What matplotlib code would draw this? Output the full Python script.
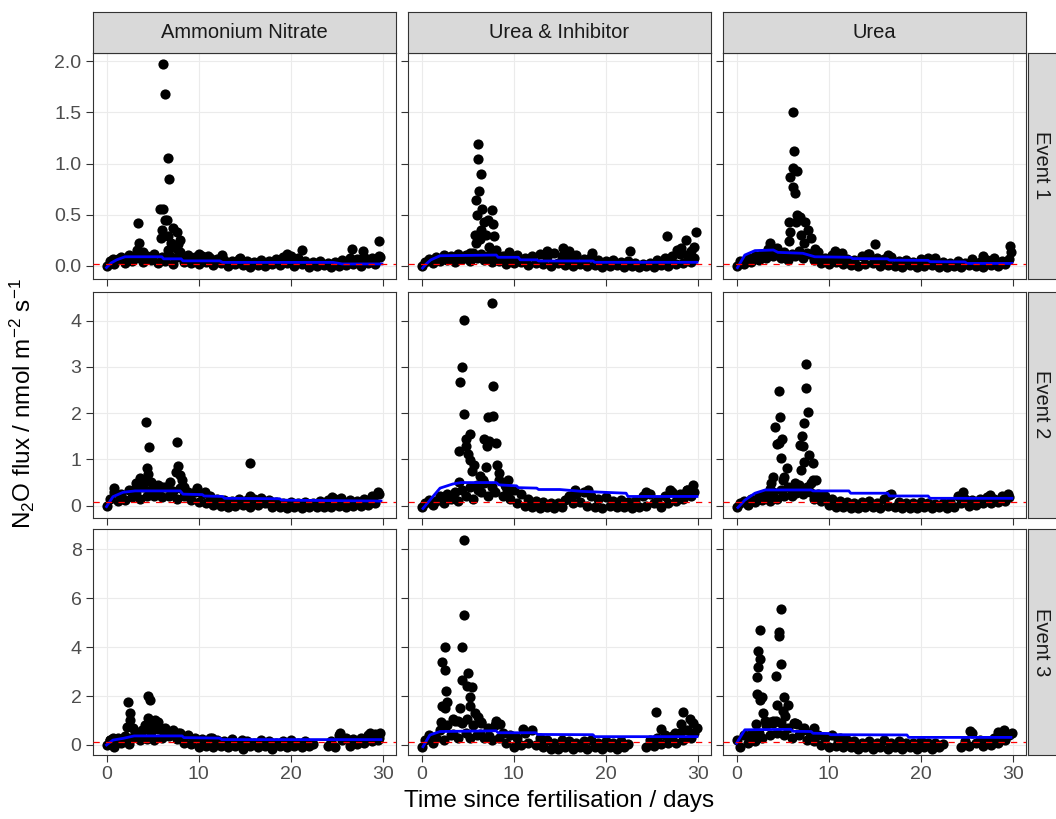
import numpy as np
import matplotlib
matplotlib.use("Agg")
import matplotlib.pyplot as plt

plt.rcParams['font.family'] = ['Liberation Sans', 'DejaVu Sans']
plt.rcParams['mathtext.fontset'] = 'custom'
plt.rcParams['mathtext.rm'] = 'Liberation Sans'
plt.rcParams['mathtext.it'] = 'Liberation Sans:italic'

nan = np.nan

treatments = ["Ammonium Nitrate", "Urea & Inhibitor", "Urea"]
events = ["Event 1", "Event 2", "Event 3"]
y_tick_values = [[0.0, 0.5, 1.0, 1.5, 2.0], [0, 1, 2, 3, 4], [0, 2, 4, 6, 8]]
y_tick_labels = [["0.0", "0.5", "1.0", "1.5", "2.0"], ["0", "1", "2", "3", "4"], ["0", "2", "4", "6", "8"]]
x_tick_values = [0, 10, 20, 30]
threshold = [0.015, 0.07, 0.14]

sample_days = [0.0, 0.4, 0.8, 1.2, 1.6, 2.0, 2.4, 2.8, 3.2, 3.6, 4.0, 4.4, 4.8, 5.2, 5.6,
               6.0, 6.4, 6.8, 7.2, 7.6, 8.0, 8.4, 8.8, 9.2, 9.6, 10.0, 10.4, 10.8, 11.2,
               11.6, 12.0, 12.4, 12.8, 13.2, 13.6, 14.0, 14.4, 14.8, 15.2, 15.6, 16.0,
               16.4, 16.8, 17.2, 17.6, 18.0, 18.4, 18.8, 19.2, 19.6, 20.0, 20.4, 20.8,
               21.2, 21.6, 22.0, 22.4, 22.8, 23.2, 23.6, 24.0, 24.4, 24.8, 25.2, 25.6,
               26.0, 26.4, 26.8, 27.2, 27.6, 28.0, 28.4, 28.8, 29.2, 29.6]

# ---------------- Event 1 ----------------
base_an_e1 = [0.00, 0.05, 0.02, 0.07, 0.09, 0.03, 0.11, 0.05, 0.08, 0.12, 0.04, 0.10,
              0.06, 0.12, 0.03, 0.09, 0.05, 0.11, 0.02, 0.09, 0.10, 0.04, 0.11, 0.03,
              0.09, 0.02, 0.10, 0.04, 0.08, 0.01, 0.07, 0.03, 0.06, 0.00, 0.05, 0.02,
              0.07, 0.01, 0.05, -0.01, 0.04, 0.01, 0.06, 0.00, 0.05, 0.02, 0.07, 0.01,
              0.09, 0.03, 0.06, 0.00, 0.08, 0.02, 0.05, -0.01, 0.04, 0.00, 0.05, 0.01,
              0.03, -0.01, 0.04, 0.00, 0.06, 0.01, 0.08, 0.02, 0.07, 0.00, 0.09, 0.03,
              0.08, 0.02, 0.10]
peak_an_e1_x = [6.1, 6.3, 6.65, 6.8, 5.8, 6.15, 6.35, 6.6, 6.0, 7.6, 7.25, 5.9, 6.7, 8.0,
                6.7, 7.6, 8.0, 3.4, 3.55, 3.3, 4.0, 7.0, 7.8, 19.6, 21.2, 26.7, 27.8,
                29.6, 29.7, 10.0, 11.0, 12.5, 14.5, 20.0, 0.7]
peak_an_e1_y = [1.97, 1.675, 1.055, 0.845, 0.56, 0.56, 0.45, 0.45, 0.35, 0.335, 0.37,
                0.27, 0.29, 0.25, 0.16, 0.17, 0.14, 0.42, 0.22, 0.16, 0.14, 0.22, 0.21,
                0.12, 0.16, 0.17, 0.15, 0.24, 0.09, 0.12, 0.10, 0.11, 0.08, 0.10, 0.07]
blue_an_e1_x = [0.0, 0.5, 1.1, 2.0, 6.0, 6.2, 8.1, 8.3, 12.3, 12.6, 24.6, 25.6, 29.9]
blue_an_e1_y = [-0.015, 0.03, 0.06, 0.09, 0.09, 0.07, 0.07, 0.05, 0.05, 0.035, 0.035, 0.02, 0.02]

base_ui_e1 = [0.00, 0.04, 0.07, 0.03, 0.09, 0.05, 0.11, 0.06, 0.10, 0.04, 0.12, 0.07,
              0.11, 0.05, 0.13, 0.08, 0.12, 0.06, 0.10, 0.04, 0.12, 0.05, 0.10, 0.02,
              0.09, 0.03, 0.11, 0.04, 0.08, 0.01, 0.10, 0.03, 0.12, 0.02, 0.09, 0.00,
              0.13, 0.03, 0.10, 0.01, 0.08, 0.00, 0.11, 0.02, 0.07, 0.00, 0.09, 0.01,
              0.06, -0.01, 0.05, 0.00, 0.06, 0.01, 0.04, -0.01, 0.05, 0.00, 0.03, -0.01,
              0.02, 0.00, 0.03, -0.01, 0.06, 0.01, 0.08, 0.00, 0.10, 0.02, 0.12, 0.03,
              0.11, 0.04, 0.08]
peak_ui_e1_x = [6.1, 6.1, 6.5, 6.25, 5.9, 6.6, 6.0, 7.6, 6.8, 7.7, 7.2, 5.8, 6.3, 5.95,
                7.9, 7.35, 8.1, 6.5, 7.0, 26.6, 28.7, 29.8, 29.6, 27.7, 22.6, 15.3, 13.6,
                5.3, 9.5, 16.0, 18.5, 28.2, 29.3]
peak_ui_e1_y = [1.19, 1.04, 0.90, 0.73, 0.64, 0.56, 0.50, 0.55, 0.43, 0.41, 0.45, 0.30,
                0.26, 0.22, 0.29, 0.19, 0.16, 0.35, 0.30, 0.29, 0.25, 0.335, 0.19, 0.156,
                0.146, 0.18, 0.15, 0.13, 0.14, 0.15, 0.13, 0.18, 0.15]
blue_ui_e1_x = [0.1, 0.5, 1.0, 2.0, 8.1, 8.3, 10.5, 10.7, 12.5, 12.7, 18.6, 18.8, 29.9]
blue_ui_e1_y = [-0.02, 0.02, 0.06, 0.1, 0.107, 0.085, 0.085, 0.06, 0.06, 0.049, 0.049, 0.036, 0.036]

base_u_e1 = [0.00, 0.05, 0.02, 0.08, 0.04, 0.10, 0.06, 0.12, 0.08, 0.16, 0.10, 0.18,
             0.08, 0.14, 0.06, 0.12, 0.10, 0.15, 0.08, 0.13, 0.12, 0.06, 0.10, 0.03,
             0.08, 0.02, 0.11, 0.04, 0.09, 0.02, 0.07, 0.01, 0.06, 0.00, 0.10, 0.02,
             0.12, 0.03, 0.08, 0.00, 0.07, 0.01, 0.09, 0.00, 0.05, -0.01, 0.06, 0.01,
             0.04, -0.01, 0.07, 0.00, 0.08, 0.01, 0.05, -0.01, 0.04, -0.01, 0.03, 0.00,
             0.05, -0.01, 0.03, 0.01, 0.07, 0.00, 0.04, -0.01, 0.06, 0.01, 0.08, 0.00,
             0.05, 0.02, 0.07]
peak_u_e1_x = [6.1, 6.25, 6.15, 6.6, 5.8, 6.15, 6.3, 6.6, 6.9, 5.75, 6.45, 7.4, 5.85,
               7.75, 8.1, 5.65, 8.5, 8.8, 7.0, 7.3, 3.6, 3.4, 3.8, 4.5, 15.0, 10.7, 11.5,
               29.7, 29.8, 26.8, 21.5, 14.3, 16.5]
peak_u_e1_y = [1.50, 1.12, 0.96, 0.93, 0.865, 0.77, 0.71, 0.50, 0.48, 0.43, 0.43, 0.43,
               0.335, 0.35, 0.27, 0.24, 0.17, 0.14, 0.30, 0.22, 0.22, 0.17, 0.15, 0.12,
               0.21, 0.15, 0.13, 0.195, 0.14, 0.10, 0.08, 0.12, 0.11]
blue_u_e1_x = [0.1, 0.9, 2.0, 4.0, 4.5, 7.2, 8.5, 12.4, 12.6, 16.4, 16.6, 20.8, 21.0, 24.8, 25.0, 29.9]
blue_u_e1_y = [-0.016, 0.107, 0.15, 0.156, 0.133, 0.124, 0.09, 0.085, 0.072, 0.07, 0.057,
               0.055, 0.042, 0.04, 0.025, 0.025]

# ---------------- Event 2 ----------------
base_an_e2 = [0.00, 0.15, 0.30, 0.10, 0.25, 0.12, 0.35, 0.18, 0.30, 0.15, 0.40, 0.20,
              0.35, 0.22, 0.45, 0.18, 0.40, 0.20, 0.32, 0.15, 0.38, 0.20, 0.30, 0.12,
              0.30, 0.08, 0.25, 0.05, 0.20, 0.02, 0.15, 0.00, 0.12, -0.02, 0.10, 0.00,
              0.15, 0.02, 0.12, -0.02, 0.14, 0.01, 0.16, 0.05, 0.12, -0.02, 0.08, -0.03,
              0.06, -0.04, 0.08, -0.02, 0.05, -0.04, 0.07, -0.03, 0.06, -0.03, 0.10, -0.02,
              0.12, -0.02, 0.15, 0.00, 0.08, -0.03, 0.12, -0.01, 0.10, 0.00, 0.14, 0.02,
              0.20, 0.05, 0.25]
peak_an_e2_x = [4.3, 4.65, 7.6, 15.6, 4.35, 7.8, 4.5, 8.0, 4.1, 4.85, 7.5, 8.2, 6.9, 6.7,
                3.2, 2.9, 8.4, 0.8, 9.8, 10.7, 29.5, 15.6, 24.5, 25.5, 5.2, 6.0, 3.6, 5.6]
peak_an_e2_y = [1.81, 1.27, 1.38, 0.93, 0.82, 0.85, 0.68, 0.66, 0.55, 0.52, 0.73, 0.55,
                0.52, 0.41, 0.48, 0.34, 0.41, 0.38, 0.38, 0.30, 0.29, 0.20, 0.18, 0.16,
                0.45, 0.40, 0.60, 0.30]
blue_an_e2_x = [0.0, 0.7, 1.8, 3.1, 8.0, 8.3, 10.4, 10.6, 12.6, 12.8, 18.8, 19.0, 29.8]
blue_an_e2_y = [-0.02, 0.195, 0.29, 0.32, 0.32, 0.25, 0.24, 0.21, 0.20, 0.16, 0.15, 0.12, 0.10]

base_ui_e2 = [-0.02, 0.05, 0.12, 0.02, 0.10, 0.20, 0.05, 0.25, 0.15, 0.30, 0.10, 0.35,
              0.20, 0.40, 0.15, 0.45, 0.30, 0.50, 0.20, 0.40, 0.30, 0.55, 0.20, 0.40,
              0.15, 0.35, 0.05, 0.25, 0.00, 0.15, -0.02, 0.10, -0.04, 0.08, -0.03, 0.05,
              -0.04, 0.06, -0.03, 0.12, 0.20, 0.05, 0.25, 0.08, 0.30, 0.00, 0.20, -0.03,
              0.15, -0.04, 0.18, 0.00, 0.10, -0.03, 0.12, -0.02, 0.08, -0.04, 0.10, -0.02,
              0.20, 0.00, 0.25, 0.05, 0.10, -0.02, 0.20, 0.05, 0.30, 0.10, 0.25, 0.15,
              0.35, 0.20, 0.30]
peak_ui_e2_x = [7.6, 4.65, 4.35, 4.2, 7.75, 4.65, 7.2, 7.75, 5.3, 4.8, 4.8, 7.35, 6.8,
                7.1, 8.1, 4.05, 5.05, 5.3, 5.65, 7.0, 8.2, 8.45, 9.4, 9.3, 6.3, 6.1, 6.7,
                4.1, 3.4, 16.7, 18.1, 24.4, 27.0, 29.5, 28.8, 28.4, 2.5, 5.5, 9.0]
peak_ui_e2_y = [4.39, 4.02, 2.99, 2.67, 2.59, 1.99, 1.92, 1.94, 1.55, 1.45, 1.30, 1.40,
                1.45, 1.30, 1.35, 1.19, 1.11, 0.99, 0.88, 0.83, 0.88, 0.70, 0.55, 0.27,
                0.64, 0.35, 0.55, 0.52, 0.20, 0.35, 0.34, 0.29, 0.33, 0.45, 0.34, 0.24,
                0.12, 0.75, 0.45]
blue_ui_e2_x = [0.15, 0.9, 2.0, 3.4, 4.3, 8.1, 8.4, 10.3, 10.5, 12.5, 12.7, 15.0, 17.4,
                22.2, 22.4, 29.9]
blue_ui_e2_y = [-0.06, 0.12, 0.38, 0.47, 0.50, 0.50, 0.45, 0.43, 0.39, 0.38, 0.35, 0.35,
                0.31, 0.27, 0.20, 0.20]

base_u_e2 = [-0.03, 0.05, 0.10, 0.02, 0.15, 0.08, 0.20, 0.12, 0.25, 0.10, 0.30, 0.15,
             0.35, 0.20, 0.40, 0.25, 0.30, 0.45, 0.25, 0.40, 0.30, 0.15, 0.25, 0.10,
             0.20, 0.02, 0.15, -0.02, 0.10, -0.03, 0.08, -0.04, 0.05, -0.04, 0.07, -0.03,
             0.10, -0.02, 0.05, -0.04, 0.15, 0.00, 0.25, -0.02, 0.08, -0.04, 0.06, -0.04,
             0.05, -0.04, 0.08, -0.03, 0.06, -0.04, 0.04, -0.03, 0.05, -0.04, 0.07, -0.02,
             0.20, 0.05, 0.15, 0.00, 0.12, 0.02, 0.15, 0.05, 0.18, 0.06, 0.15, 0.08,
             0.22, 0.10, 0.18]
peak_u_e2_x = [7.55, 4.65, 7.55, 4.7, 7.75, 4.2, 7.3, 4.9, 4.35, 4.6, 6.85, 7.1, 7.2, 4.8,
               7.9, 7.3, 8.3, 5.5, 5.2, 5.0, 3.95, 3.75, 3.6, 6.95, 8.3, 8.1, 8.6, 6.3,
               6.5, 6.0, 24.6, 29.5, 27.5, 16.6, 3.2]
peak_u_e2_y = [3.06, 2.49, 2.55, 1.91, 2.02, 1.71, 1.79, 1.44, 1.34, 1.36, 1.32, 1.50,
               1.30, 1.03, 1.10, 0.95, 0.92, 0.81, 0.63, 0.55, 0.63, 0.48, 0.37, 0.77,
               0.55, 0.48, 0.55, 0.48, 0.27, 0.20, 0.29, 0.26, 0.23, 0.23, 0.25]
blue_u_e2_x = [0.15, 0.9, 2.0, 3.1, 8.1, 8.3, 12.2, 12.4, 16.4, 16.6, 20.8, 21.0, 29.9]
blue_u_e2_y = [-0.04, 0.12, 0.27, 0.34, 0.34, 0.32, 0.32, 0.27, 0.27, 0.21, 0.21, 0.16, 0.16]

# ---------------- Event 3 ----------------
base_an_e3 = [0.00, 0.20, -0.10, 0.30, 0.10, 0.35, 0.05, 0.30, 0.50, 0.20, 0.60, 0.25,
              0.55, 0.20, 0.65, 0.30, 0.70, 0.35, 0.60, 0.25, 0.50, 0.10, 0.40, 0.05,
              0.30, -0.10, 0.25, -0.05, 0.30, -0.10, 0.20, -0.05, 0.15, -0.10, 0.25, -0.05,
              0.10, -0.15, 0.15, -0.05, 0.10, -0.10, 0.20, -0.05, 0.15, -0.15, 0.10, -0.05,
              0.15, -0.10, 0.20, -0.05, 0.10, -0.10, 0.15, -0.05, 0.05, nan, nan, nan,
              -0.05, 0.15, -0.10, 0.40, 0.20, 0.30, -0.05, 0.25, 0.05, 0.30, 0.10, 0.40,
              0.15, 0.45, 0.30]
peak_an_e3_x = [2.35, 4.5, 4.7, 2.5, 2.55, 2.2, 2.9, 3.1, 4.5, 5.3, 5.6, 4.9, 6.1, 6.5,
                5.8, 3.8, 4.2, 7.8, 8.1, 0.4, 0.7, 25.4, 28.6, 29.7, 29.5, 11.5, 14.7]
peak_an_e3_y = [1.77, 2.00, 1.84, 1.30, 1.03, 0.75, 0.68, 0.48, 1.10, 1.03, 0.95, 0.89,
                0.61, 0.55, 0.68, 0.61, 0.82, 0.48, 0.41, 0.20, 0.27, 0.48, 0.48, 0.48,
                0.20, 0.30, 0.20]
blue_an_e3_x = [0.0, 0.7, 1.8, 3.0, 8.2, 8.4, 12.3, 12.5, 29.8]
blue_an_e3_y = [0.0, 0.20, 0.27, 0.37, 0.37, 0.30, 0.28, 0.22, 0.22]

base_ui_e3 = [-0.10, 0.20, 0.40, 0.10, 0.30, 0.60, 0.20, 0.80, 0.40, 1.00, 0.30, 0.90,
              0.50, 0.30, 0.80, 0.40, 0.90, 0.30, 0.70, 0.20, 0.80, 0.30, 0.50, 0.10,
              0.40, -0.10, 0.30, 0.00, 0.50, 0.10, 0.60, 0.00, 0.30, -0.10, 0.20, -0.15,
              0.10, -0.15, 0.20, -0.10, 0.15, -0.15, 0.10, -0.10, 0.15, -0.15, 0.20, -0.10,
              0.10, -0.15, 0.15, -0.10, 0.10, -0.15, 0.15, -0.10, 0.05, nan, nan, nan,
              nan, -0.10, 0.20, -0.05, 0.30, 0.05, 0.40, 0.10, 0.35, 0.10, 0.50, 0.20,
              0.60, 0.30, 0.50]
peak_ui_e3_x = [4.65, 4.65, 2.5, 4.35, 2.2, 2.5, 5.0, 4.4, 4.9, 5.5, 5.2, 2.7, 2.25, 2.8,
                2.5, 4.2, 5.2, 5.8, 2.15, 3.4, 4.0, 4.9, 6.1, 6.4, 8.1, 8.5, 3.4, 6.3, 7.3,
                11.0, 25.5, 28.4, 29.1, 29.5, 29.9, 28.2, 26.0, 27.5]
peak_ui_e3_y = [8.40, 5.32, 4.00, 4.00, 3.40, 3.07, 2.93, 2.66, 2.40, 2.35, 1.98, 2.20,
                1.60, 1.75, 1.50, 1.53, 1.60, 1.30, 0.95, 1.05, 1.00, 1.05, 1.15, 0.95,
                1.00, 0.85, 0.45, 0.45, 0.35, 0.64, 1.36, 1.36, 1.05, 0.90, 0.70, 0.85,
                0.64, 0.50]
blue_ui_e3_x = [0.15, 0.9, 2.0, 8.1, 8.3, 12.4, 12.6, 18.6, 18.8, 29.9]
blue_ui_e3_y = [-0.07, 0.41, 0.55, 0.58, 0.50, 0.50, 0.43, 0.42, 0.34, 0.34]

base_u_e3 = [0.20, -0.10, 0.40, 0.10, 0.45, 0.15, 0.50, 0.30, 0.80, 0.40, 1.00, 0.50,
             0.90, 0.40, 0.70, 0.30, 0.90, 0.40, 0.60, 0.20, 0.50, 0.15, 0.40, 0.00,
             0.30, -0.10, 0.40, -0.05, 0.30, -0.10, 0.20, -0.10, 0.15, -0.15, 0.10, -0.10,
             0.15, -0.15, 0.10, -0.10, 0.20, -0.15, 0.10, -0.10, 0.15, -0.15, 0.10, -0.10,
             0.10, -0.15, 0.15, -0.10, 0.10, -0.15, 0.10, -0.10, 0.05, nan, nan, nan,
             nan, -0.10, 0.15, -0.05, 0.50, 0.10, 0.20, -0.05, 0.15, 0.00, 0.30, 0.10,
             0.45, 0.20, 0.40]
peak_u_e3_x = [4.8, 2.6, 4.6, 4.65, 2.35, 2.6, 2.35, 2.2, 4.8, 4.3, 2.2, 2.8, 2.6, 5.2,
               4.4, 5.6, 5.0, 5.3, 2.9, 3.1, 4.0, 3.5, 4.3, 2.1, 6.2, 6.6, 7.3, 8.4, 1.5,
               25.4, 28.4, 29.0, 29.9, 11.0]
peak_u_e3_y = [5.54, 4.72, 4.60, 4.45, 3.84, 3.50, 3.20, 2.77, 3.30, 2.83, 2.10, 1.97,
               1.85, 1.97, 1.65, 1.65, 1.40, 1.20, 1.30, 1.00, 0.90, 0.95, 1.00, 0.85,
               0.90, 0.85, 0.70, 0.70, 0.30, 0.59, 0.55, 0.60, 0.50, 0.20]
blue_u_e3_x = [0.0, 0.9, 5.9, 6.1, 8.1, 8.3, 10.0, 10.2, 18.5, 18.7, 29.8]
blue_u_e3_y = [0.07, 0.62, 0.64, 0.56, 0.55, 0.48, 0.47, 0.42, 0.41, 0.31, 0.31]

panels = [
    [(base_an_e1, peak_an_e1_x, peak_an_e1_y, blue_an_e1_x, blue_an_e1_y),
     (base_ui_e1, peak_ui_e1_x, peak_ui_e1_y, blue_ui_e1_x, blue_ui_e1_y),
     (base_u_e1, peak_u_e1_x, peak_u_e1_y, blue_u_e1_x, blue_u_e1_y)],
    [(base_an_e2, peak_an_e2_x, peak_an_e2_y, blue_an_e2_x, blue_an_e2_y),
     (base_ui_e2, peak_ui_e2_x, peak_ui_e2_y, blue_ui_e2_x, blue_ui_e2_y),
     (base_u_e2, peak_u_e2_x, peak_u_e2_y, blue_u_e2_x, blue_u_e2_y)],
    [(base_an_e3, peak_an_e3_x, peak_an_e3_y, blue_an_e3_x, blue_an_e3_y),
     (base_ui_e3, peak_ui_e3_x, peak_ui_e3_y, blue_ui_e3_x, blue_ui_e3_y),
     (base_u_e3, peak_u_e3_x, peak_u_e3_y, blue_u_e3_x, blue_u_e3_y)],
]

# ---------------- layout ----------------
W, H = 1056, 819
fig = plt.figure(figsize=(W / 100, H / 100), dpi=100)
col_left = [92.7, 407.8, 722.7]
col_w = 303.5
row_top = [52.5, 291.5, 529.0]
row_h = 226.0
ylims = [(-0.122, 2.083), (-0.255, 4.63), (-0.41, 8.83)]
xlim = (-1.5, 31.45)

dark = '#333333'
tick_col = '#4D4D4D'
FS_TICK = 14.0
FS_STRIP = 14.5
FS_TITLE = 17.5
DOT = 54


def fr(x, y, w, h):
    return [x / W, 1 - (y + h) / H, w / W, h / H]


sd = np.array(sample_days)
for r in range(3):
    for c in range(3):
        base, px, py, bx, by = panels[r][c]
        ax = fig.add_axes(fr(col_left[c], row_top[r], col_w, row_h))
        ax.set_xlim(*xlim)
        ax.set_ylim(*ylims[r])
        ax.set_facecolor('white')
        ax.grid(True, color='#EBEBEB', linewidth=0.8, zorder=0)
        ax.set_axisbelow(True)
        ax.set_xticks(x_tick_values)
        ax.set_yticks(y_tick_values[r])
        ax.set_yticklabels(y_tick_labels[r])
        for s in ax.spines.values():
            s.set_color(dark)
            s.set_linewidth(0.8)
        ax.tick_params(axis='both', colors=dark, length=5, width=0.8,
                       labelsize=FS_TICK, labelcolor=tick_col, pad=3)
        if c != 0:
            ax.tick_params(axis='y', labelleft=False)
        if r != 2:
            ax.tick_params(axis='x', labelbottom=False)
        bvals = np.array(base, dtype=float)
        ok = ~np.isnan(bvals)
        ax.scatter(sd[ok], bvals[ok], s=DOT, color='black', linewidths=0, zorder=2)
        ax.scatter(px, py, s=DOT, color='black', linewidths=0, zorder=2)
        ax.plot(bx, by, color='#0000FF', linewidth=2.0, zorder=3)
        ax.axhline(threshold[r], color='#FF0000', linewidth=0.9,
                   linestyle=(0, (5, 5)), zorder=4)

        if r == 0:
            sax = fig.add_axes(fr(col_left[c], 12.0, col_w, 40.5))
            sax.set_facecolor('#D9D9D9')
            sax.set_xticks([]); sax.set_yticks([])
            for s in sax.spines.values():
                s.set_color(dark); s.set_linewidth(0.8)
            sax.text(0.5, 0.5, treatments[c], ha='center', va='center',
                     fontsize=FS_STRIP, color='#1A1A1A', transform=sax.transAxes)
        if c == 2:
            sax = fig.add_axes(fr(1028.0, row_top[r], 40.0, row_h))
            sax.set_facecolor('#D9D9D9')
            sax.set_xticks([]); sax.set_yticks([])
            for s in sax.spines.values():
                s.set_color(dark); s.set_linewidth(0.8)
            sax.text(14.0 / 40.0, 0.5, events[r], ha='center', va='center', rotation=-90,
                     fontsize=FS_STRIP, color='#1A1A1A', transform=sax.transAxes)

fig.text(559 / W, 1 - 801 / H, 'Time since fertilisation / days', ha='center', va='center',
         fontsize=FS_TITLE, color='black')
fig.text(22 / W, 1 - 404 / H, r'N$_2$O flux / nmol m$^{-2}$ s$^{-1}$', ha='center', va='center',
         rotation=90, fontsize=FS_TITLE, color='black')

fig.savefig('out.png', dpi=100)
